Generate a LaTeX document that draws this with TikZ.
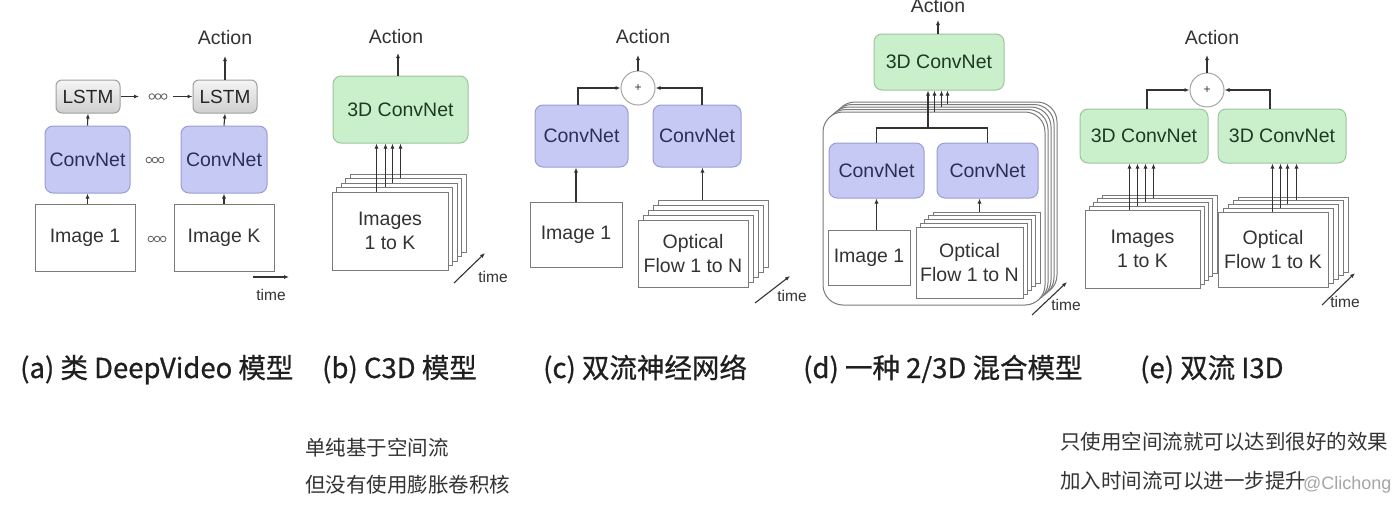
\documentclass[tikz,border=0pt]{standalone}
\usepackage{fontspec}
\setmainfont{Liberation Sans}
\newfontfamily\cjk{Noto Sans CJK SC}
\newfontfamily\cjkcap[FakeBold=0.7]{Noto Sans CJK SC}
\usetikzlibrary{arrows.meta,calc}
\definecolor{bluef}{HTML}{C6C9F3}
\definecolor{blueb}{HTML}{9A9DD6}
\definecolor{bluet}{HTML}{2C2F55}
\definecolor{greenf}{HTML}{C9EFCB}
\definecolor{greenb}{HTML}{9CC49E}
\definecolor{greent}{HTML}{1E3A22}
\definecolor{bord}{HTML}{7A7A7A}
\definecolor{arrc}{HTML}{333333}
\definecolor{txt}{HTML}{333333}
\newcommand\mkstack[9]{%
  \foreach \i in {#7,...,1}{%
    \node[#2, minimum width=#5, minimum height=#6] (#1\i) at ({#3+\i*#8},{#4-\i*#9}) {};}}
\newcommand\ooodots[2]{%
  \foreach \d in {-6.2,0,6.2}{\draw[draw=arrc!80, line width=0.8pt] ({#1+\d},#2) circle (2.8pt);}}
\begin{document}
\begin{tikzpicture}[x=1pt,y=-1pt,
  lbl/.style={font=\fontsize{19.5}{24}\selectfont, text=txt, align=center, inner sep=0pt},
  timel/.style={font=\fontsize{15.5}{18}\selectfont, text=txt, inner sep=0pt},
  imgbox/.style={draw=bord, fill=white, line width=1pt, inner sep=0pt, font=\fontsize{19.5}{24}\selectfont, text=txt, align=center},
  bigbox/.style={draw=bord, fill=white, line width=1pt, inner sep=0pt, rounded corners=20pt},
  conv/.style={draw=blueb, fill=bluef, line width=1pt, rounded corners=8pt, inner sep=0pt, font=\fontsize{19.5}{24}\selectfont, text=bluet},
  grn/.style={draw=greenb, fill=greenf, line width=1pt, rounded corners=8pt, inner sep=0pt, font=\fontsize{19.5}{24}\selectfont, text=greent},
  lstm/.style={draw=gray!75, top color=gray!8, bottom color=gray!38, line width=1pt, rounded corners=6pt, inner sep=0pt, minimum width=64pt, minimum height=33pt, font=\fontsize{19}{24}\selectfont, text=black!85},
  plus/.style={circle, draw=gray!70, fill=white, line width=1pt, minimum size=34pt, inner sep=0pt, font=\fontsize{12}{14}\selectfont, text=txt},
  arr/.style={draw=arrc, line width=1.1pt, -{Latex[length=5pt,width=4pt]}},
  ln/.style={draw=arrc, line width=1.1pt},
  captxt/.style={font=\cjkcap\fontsize{27.5}{30}\selectfont, text=black!88, anchor=base west, inner sep=0pt},
  note/.style={font=\cjk\fontsize{20.5}{24}\selectfont, text=black!80, anchor=base west, inner sep=0pt}
]
\clip (0,0) rectangle (1400,515);
\fill[white] (0,0) rectangle (1400,515);

% ---------------- (a)
\node[lbl] (acta) at (225,38) {Action};
\node[lstm] (la1) at (88,96.5) {LSTM};
\node[lstm] (la2) at (225,96.5) {LSTM};
\node[conv, minimum width=85pt, minimum height=67pt] (ca1) at (87.5,159.5) {ConvNet};
\node[conv, minimum width=86pt, minimum height=67pt] (ca2) at (224,159.5) {ConvNet};
\node[imgbox, minimum width=100pt, minimum height=67pt] (ia1) at (85,237.5) {Image 1};
\node[imgbox, minimum width=100pt, minimum height=67pt] (ia2) at (224,237.5) {Image K};
\coordinate (actain) at (225,56);
\coordinate (da1) at (139,96.5);
\coordinate (da2) at (173,96.5);
\draw[arr] (ca1.south |- ia1.north) -- (ca1.south);
\draw[arr] (ca2.south |- ia2.north) -- (ca2.south);
\draw[arr] (ca1.north) -- (la1.south);
\draw[arr] (ca2.north) -- (la2.south);
\draw[arr] (la1.east) -- (da1);
\draw[arr] (da2) -- (la2.west);
\draw[arr] (la2.north) -- (actain);
\ooodots{158}{96.5}
\ooodots{155}{160}
\ooodots{157}{239}
\coordinate (ta0) at (253,277);
\coordinate (ta1) at (289,277);
\draw[arr] (ta0) -- (ta1);
\node[timel] (tla) at (271,295) {time};

% ---------------- (b)
\node[lbl] (actb) at (396,37) {Action};
\node[grn, minimum width=135pt, minimum height=67pt] (gb) at (400.5,109.5) {3D ConvNet};
\coordinate (actbin) at (398,53);
\draw[arr] (gb.north -| actbin) -- (actbin);
\mkstack{sb}{imgbox}{390}{231}{116pt}{78pt}{4}{4.5}{4.5}
\node[imgbox, minimum width=116pt, minimum height=78pt] (sb0) at (390,231) {Images\\1 to K};
\foreach \k/\s in {0/45,1/49.5,2/52,3/55.5}{
  \coordinate (bb\k) at ([xshift=\s pt]sb\k.north west);
  \draw[arr] (bb\k) -- (bb\k |- gb.south);}
\coordinate (tb0) at (454,283);
\coordinate (tb1) at (485,253);
\draw[arr] (tb0) -- (tb1);
\node[timel] (tlb) at (493,277) {time};

% ---------------- (c)
\node[lbl] (actc) at (643,37) {Action};
\node[plus] (pc) at (638,88) {+};
\coordinate (actcin) at (638,55);
\draw[arr] (pc.north) -- (actcin);
\node[conv, minimum width=93pt, minimum height=62pt] (cc1) at (581.5,136) {ConvNet};
\node[conv, minimum width=88pt, minimum height=62pt] (cc2) at (697,136) {ConvNet};
\draw[arr] ([xshift=-3.5pt]cc1.north) |- (pc.west);
\draw[arr] ([xshift=5pt]cc2.north) |- (pc.east);
\node[imgbox, minimum width=92pt, minimum height=65pt] (ic1) at (576,234.5) {Image 1};
\draw[arr] (ic1.north) -- (ic1.north |- cc1.south);
\mkstack{oc}{imgbox}{693}{253.5}{110pt}{67pt}{4}{5}{5}
\node[imgbox, minimum width=110pt, minimum height=67pt] (oc0) at (693,253.5) {Optical\\Flow 1 to N};
\coordinate (ocb) at ([xshift=45pt]oc4.north west);
\draw[arr] (ocb) -- (ocb |- cc2.south);
\coordinate (tc0) at (755,303);
\coordinate (tc1) at (790,276);
\draw[arr] (tc0) -- (tc1);
\node[timel] (tlc) at (792,296) {time};

% ---------------- (d)
\node[lbl] (actd) at (938,6) {Action};
\node[grn, minimum width=130pt, minimum height=56pt] (gd) at (939,62) {3D ConvNet};
\coordinate (actdin) at (938,20);
\draw[arr] (gd.north -| actdin) -- (actdin);
\mkstack{bd}{bigbox}{934}{208.5}{222pt}{193pt}{4}{3}{2.5}
\node[bigbox, minimum width=222pt, minimum height=193pt] (bd0) at (934,208.5) {};
\node[conv, minimum width=95pt, minimum height=55pt] (cd1) at (876.5,170.5) {ConvNet};
\node[conv, minimum width=101pt, minimum height=55pt] (cd2) at (987.5,170.5) {ConvNet};
\node[imgbox, minimum width=82pt, minimum height=55pt] (id1) at (869,257.5) {Image 1};
\draw[arr] (cd1.south |- id1.north) -- (cd1.south);
\mkstack{od}{imgbox}{969.5}{262.5}{107pt}{71pt}{4}{4.25}{3.75}
\node[imgbox, minimum width=107pt, minimum height=71pt] (od0) at (969.5,262.5) {Optical\\Flow 1 to N};
\coordinate (odb) at ([xshift=47pt]od4.north west);
\draw[arr] (odb) -- (odb |- cd2.south);
\coordinate (jd) at (928,128);
\draw[ln] (cd1.north) |- (jd) -| (cd2.north);
\draw[arr] (jd) -- (jd |- gd.south);
\foreach \k/\s in {0/112,2/113,3/116}{
  \coordinate (db\k) at ([xshift=\s pt]bd\k.north west);
  \draw[arr] (db\k) -- (db\k |- gd.south);}
\coordinate (td0) at (1032,315);
\coordinate (td1) at (1067,282);
\draw[arr] (td0) -- (td1);
\node[timel] (tld) at (1066,305) {time};

% ---------------- (e)
\node[lbl] (acte) at (1212,38) {Action};
\node[plus] (pe) at (1207,90) {+};
\coordinate (actein) at (1207,55);
\draw[arr] (pe.north) -- (actein);
\node[grn, minimum width=128pt, minimum height=54pt] (ge1) at (1144,136) {3D ConvNet};
\node[grn, minimum width=128pt, minimum height=54pt] (ge2) at (1282,136) {3D ConvNet};
\draw[arr] ([xshift=3pt]ge1.north) |- (pe.west);
\draw[arr] ([xshift=-12pt]ge2.north) |- (pe.east);
\mkstack{se}{imgbox}{1142.5}{249}{115pt}{78pt}{4}{4.25}{3.75}
\node[imgbox, minimum width=115pt, minimum height=78pt] (se0) at (1142.5,249) {Images\\1 to K};
\foreach \k/\s in {0/45,1/48.75,2/52.5,3/56.25}{
  \coordinate (eb\k) at ([xshift=\s pt]se\k.north west);
  \draw[arr] (eb\k) -- (eb\k |- ge1.south);}
\mkstack{oe}{imgbox}{1273}{249.5}{110pt}{75pt}{4}{5}{3.75}
\node[imgbox, minimum width=110pt, minimum height=75pt] (oe0) at (1273,249.5) {Optical\\Flow 1 to K};
\foreach \k/\s in {0/55,1/58,2/60,3/64}{
  \coordinate (ob\k) at ([xshift=\s pt]oe\k.north west);
  \draw[arr] (ob\k) -- (ob\k |- ge2.south);}
\coordinate (te0) at (1322,305);
\coordinate (te1) at (1355,273);
\draw[arr] (te0) -- (te1);
\node[timel] (tle) at (1345,302) {time};

% ---------------- captions
\node[captxt] (capa) at (20,378) {(a) 类 DeepVideo 模型};
\node[captxt] (capb) at (322,378) {(b) C3D 模型};
\node[captxt] (capc) at (543,378) {(c) 双流神经网络};
\node[captxt] (capd) at (803,378) {(d) 一种 2/3D 混合模型};
\node[captxt] (cape) at (1140,378) {(e) 双流 I3D};

\node[note] (n1) at (305,455) {单纯基于空间流};
\node[note] (n2) at (305,492) {但没有使用膨胀卷积核};
\node[note] (n3) at (1060,449) {只使用空间流就可以达到很好的效果};
\node[note] (n4) at (1060,488) {加入时间流可以进一步提升};
\node[font=\fontsize{18}{20}\selectfont, text=black!35, anchor=base west, inner sep=0pt] (wm) at (1303,489) {@Clichong};
\end{tikzpicture}
\end{document}
